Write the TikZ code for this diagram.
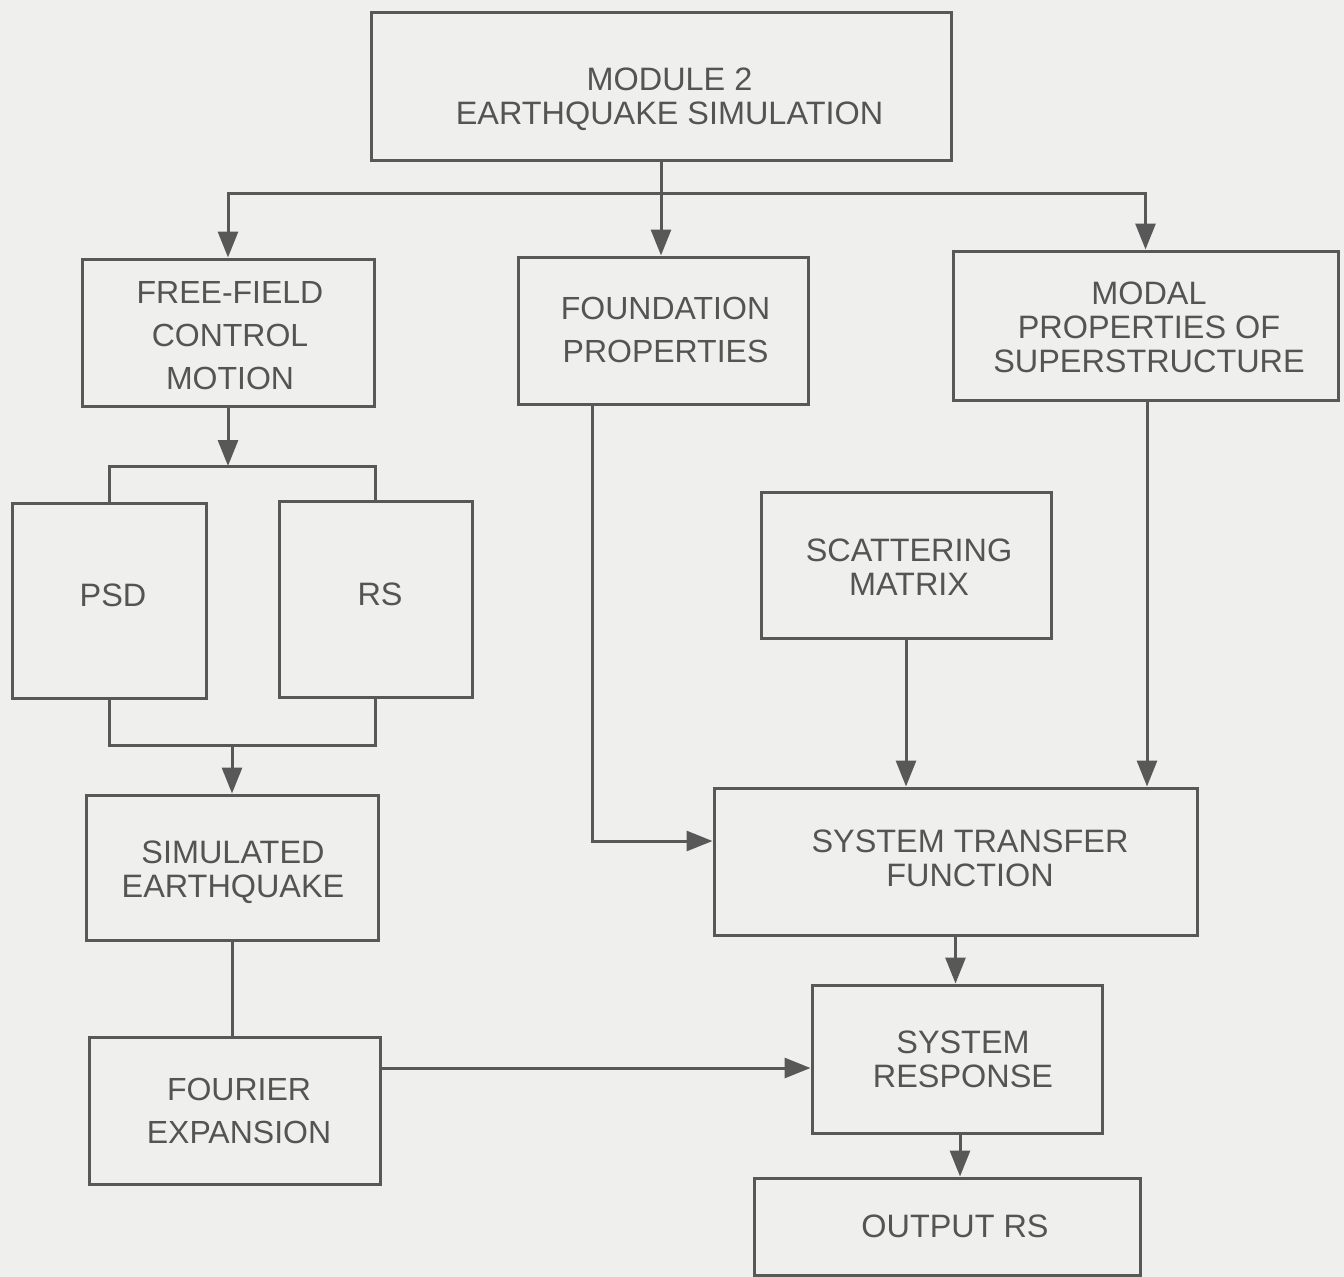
\documentclass[tikz,border=0pt]{standalone}
\usepackage{fontspec}
\setmainfont{Liberation Sans}
\usetikzlibrary{arrows.meta}
\definecolor{paper}{RGB}{239,239,237}
\definecolor{ink}{RGB}{88,88,88}
\definecolor{letter}{RGB}{84,84,84}
\tikzset{
  blk/.style={draw=ink, line width=3pt, inner sep=0pt},
  lbl/.style={text=letter, align=center, inner sep=0pt,
    font=\fontsize{32.4}{34}\selectfont},
  widelbl/.style={lbl, font=\fontsize{32}{43}\selectfont},
  wire/.style={draw=ink, line width=3pt},
  arr/.style={wire, -{Triangle[length=26pt,width=20pt]}},
}
\begin{document}
\begin{tikzpicture}[x=1pt,y=-1pt]
\fill[paper] (0,0) rectangle (1344,1277);
\useasboundingbox (0,0) rectangle (1344,1277);

% blocks (frames)
\node[blk, minimum width=580pt, minimum height=148pt] (mod) at (661,86) {};
\node[blk, minimum width=292pt, minimum height=147pt] (ff) at (228,332.5) {};
\node[blk, minimum width=290pt, minimum height=147pt] (fd) at (663,330.5) {};
\node[blk, minimum width=385pt, minimum height=149pt] (modal) at (1145.5,325.5) {};
\node[blk, minimum width=194pt, minimum height=195pt] (psd) at (109,600.5) {};
\node[blk, minimum width=193pt, minimum height=196pt] (rs) at (375.5,599) {};
\node[blk, minimum width=292pt, minimum height=145pt] (sim) at (232,867.5) {};
\node[blk, minimum width=291pt, minimum height=147pt] (four) at (234.5,1110.5) {};
\node[blk, minimum width=290pt, minimum height=146pt] (scat) at (906,565) {};
\node[blk, minimum width=483pt, minimum height=147pt] (stf) at (955.5,861.5) {};
\node[blk, minimum width=290pt, minimum height=148pt] (sr) at (957,1059) {};
\node[blk, minimum width=386pt, minimum height=97pt] (out) at (947,1226.5) {};

% block captions
\node[lbl] (mod-t) at ([xshift=8.5pt,yshift=-13pt]mod.center) {MODULE 2\\EARTHQUAKE SIMULATION};
\node[widelbl] (ff-t) at ([xshift=2pt,yshift=-3pt]ff.center) {FREE-FIELD\\CONTROL\\MOTION};
\node[widelbl] (fd-t) at ([xshift=2.5pt,yshift=1pt]fd.center) {FOUNDATION\\PROPERTIES};
\node[lbl] (modal-t) at ([xshift=3.5pt,yshift=-2pt]modal.center) {MODAL\\PROPERTIES OF\\SUPERSTRUCTURE};
\node[lbl] (psd-t) at ([xshift=4pt,yshift=5pt]psd.center) {PSD};
\node[lbl] (rs-t) at ([xshift=4.5pt,yshift=5pt]rs.center) {RS};
\node[lbl] (sim-t) at ([xshift=1pt,yshift=-4.5pt]sim.center) {SIMULATED\\EARTHQUAKE};
\node[widelbl] (four-t) at ([xshift=4.5pt]four.center) {FOURIER\\EXPANSION};
\node[lbl] (scat-t) at ([xshift=3pt,yshift=-2pt]scat.center) {SCATTERING\\MATRIX};
\node[lbl] (stf-t) at ([xshift=14.5pt,yshift=3pt]stf.center) {SYSTEM TRANSFER\\FUNCTION};
\node[lbl] (sr-t) at ([xshift=6pt]sr.center) {SYSTEM\\RESPONSE};
\node[lbl] (out-t) at ([xshift=8pt]out.center) {OUTPUT RS};

% distribution bus under module 2
\coordinate (bus) at (661,193);
\draw[wire] (mod.south) -- (bus);
\draw[arr] (bus) -| (ff.north);
\draw[arr] (bus) -- (bus |- fd.north);
\draw[arr] (bus) -| (modal.north);

% free-field motion to PSD / RS
\coordinate (split) at (228,466);
\draw[arr] (ff.south) -- (split);
\draw[wire] (psd.north) |- (rs.north |- split) -- (rs.north);

% PSD / RS merged into simulated earthquake
\coordinate (merge) at (232,745);
\draw[wire] (psd.south) |- (rs.south |- merge) -- (rs.south);
\draw[arr] (merge) -- (sim.north);

\draw[wire] (sim.south) -- (sim.south |- four.north);
\draw[arr] ([yshift=42.5pt]four.east) -- ([yshift=42.5pt]four.east -| sr.west);

% right-hand chain
\draw[arr] ([xshift=-71pt]fd.south) |- ([yshift=20.5pt]stf.west);
\draw[arr] (scat.south) -- (scat.south |- stf.north);
\draw[arr] ([xshift=1.5pt]modal.south) -- ([xshift=1.5pt]modal.south |- stf.north);
\draw[arr] (stf.south) -- (stf.south |- sr.north);
\draw[arr] ([xshift=3pt]sr.south) -- ([xshift=3pt]sr.south |- out.north);
\end{tikzpicture}
\end{document}
